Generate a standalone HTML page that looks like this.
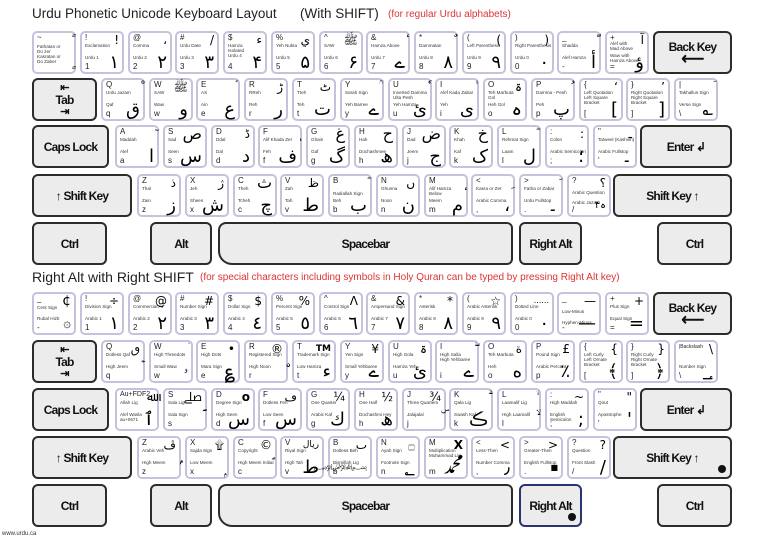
<!DOCTYPE html>
<html><head><meta charset="utf-8"><style>
*{box-sizing:border-box;margin:0;padding:0}
body{width:768px;height:544px;background:#fff;position:relative;overflow:hidden;font-family:"Liberation Sans",sans-serif;color:#222}
.k{position:absolute;width:44px;height:43px;border:2.5px solid #c6c2dc;border-radius:5px;background:#fff}
.k i{position:absolute;font-style:normal;white-space:nowrap}
.t{left:3px;top:1px;font-size:8px;line-height:8px}
.a{left:3px;top:10px;font-size:4.6px;line-height:5px;color:#333}
.b{left:3px;top:22px;font-size:4.6px;line-height:5px;color:#333}
.d{left:3px;bottom:1px;font-size:8px;line-height:8px}
.u{right:3px;top:0;font-size:12px;line-height:14px;font-family:"DejaVu Sans",sans-serif;color:#000}
.v{right:3px;bottom:0;font-size:18px;line-height:19px;font-family:"DejaVu Sans",sans-serif;color:#000}
.g{position:absolute;height:43px;border:2px solid #2c2c2c;border-radius:6px;background:#ececec;display:flex;align-items:center;justify-content:center;font-weight:bold;font-size:12px;letter-spacing:-0.8px;color:#111;flex-direction:column}
.h{position:absolute;font-size:13.5px;color:#222;white-space:nowrap}
.r{position:absolute;font-size:10px;color:#d33;white-space:nowrap}
.dot{position:absolute;right:4px;bottom:4px;width:8px;height:8px;border-radius:50%;background:#111}
</style></head><body>

<div class="h" style="left:32px;top:6px">Urdu Phonetic Unicode Keyboard Layout</div>
<div class="h" style="left:300px;top:6px">(With SHIFT)</div>
<div class="r" style="left:388px;top:9px">(for regular Urdu alphabets)</div>

<!-- TOP row1 -->
<div class="k" style="left:32px;top:31px"><i class="t">~</i><i class="a" style="top:11px">Fathatan or<br>Do zer<br>Kasratan or<br>Do Zaber</i><i class="u">ً</i><i class="v" style="font-size:12px">ٍ</i></div>
<div class="k" style="left:80px;top:31px"><i class="t">!</i><i class="a">Exclamation</i><i class="b">Urdu 1</i><i class="d">1</i><i class="u">!</i><i class="v">۱</i></div>
<div class="k" style="left:128px;top:31px"><i class="t">@</i><i class="a">Comma</i><i class="b">Urdu 2</i><i class="d">2</i><i class="u">،</i><i class="v">۲</i></div>
<div class="k" style="left:175px;top:31px"><i class="t">#</i><i class="a">Urdu Date</i><i class="b">Urdu 3</i><i class="d">3</i><i class="u">/</i><i class="v">۳</i></div>
<div class="k" style="left:223px;top:31px"><i class="t">$</i><i class="a">Hamza<br>Isolated<br>Urdu 4</i><i class="d">4</i><i class="u">ء</i><i class="v">۴</i></div>
<div class="k" style="left:271px;top:31px"><i class="t">%</i><i class="a">Yeh Nukta</i><i class="b">Urdu 5</i><i class="d">5</i><i class="u">ي</i><i class="v">۵</i></div>
<div class="k" style="left:319px;top:31px"><i class="t">^</i><i class="a">SAW</i><i class="b">Urdu 6</i><i class="d">6</i><i class="u">ﷺ</i><i class="v">۶</i></div>
<div class="k" style="left:366px;top:31px"><i class="t">&amp;</i><i class="a">Hamza Above</i><i class="b">Urdu 7</i><i class="d">7</i><i class="u">ٔ</i><i class="v">ے</i></div>
<div class="k" style="left:414px;top:31px"><i class="t">*</i><i class="a">Dammatan</i><i class="b">Urdu 8</i><i class="d">8</i><i class="u">ٌ</i><i class="v">۸</i></div>
<div class="k" style="left:462px;top:31px"><i class="t">(</i><i class="a">Left Parenthesis</i><i class="b">Urdu 9</i><i class="d">9</i><i class="u">(</i><i class="v">۹</i></div>
<div class="k" style="left:510px;top:31px"><i class="t">)</i><i class="a">Right Parenthesis</i><i class="b">Urdu 0</i><i class="d">0</i><i class="u">)</i><i class="v">۰</i></div>
<div class="k" style="left:557px;top:31px"><i class="t">_</i><i class="a">Shadda</i><i class="b">Alef Hamza</i><i class="d">-</i><i class="u">ّ</i><i class="v">أ</i></div>
<div class="k" style="left:605px;top:31px"><i class="t">+</i><i class="a" style="top:8px">Alef with<br>Mad Above</i><i class="b" style="top:20px">Waw with<br>Hamza Above</i><i class="d">=</i><i class="u">آ</i><i class="v">ؤ</i></div>
<div class="g" style="left:653px;top:31px;width:79px">Back Key<span style="font-size:16px;line-height:12px">⟵</span></div>

<!-- TOP row2 -->
<div class="g" style="left:32px;top:78px;width:65px"><span style="font-size:11px;line-height:10px">⇤</span>Tab<span style="font-size:11px;line-height:10px">⇥</span></div>
<div class="k" style="left:101px;top:78px"><i class="t">Q</i><i class="a">Urdu Jazam</i><i class="b">Qaf</i><i class="d">q</i><i class="u">ْ</i><i class="v">ق</i></div>
<div class="k" style="left:149px;top:78px"><i class="t">W</i><i class="a">SAW</i><i class="b">Waw</i><i class="d">w</i><i class="u">ﷺ</i><i class="v">و</i></div>
<div class="k" style="left:196px;top:78px"><i class="t">E</i><i class="a">AS</i><i class="b">Ain</i><i class="d">e</i><i class="u">ؑ</i><i class="v">ع</i></div>
<div class="k" style="left:244px;top:78px"><i class="t">R</i><i class="a">RReh</i><i class="b">Reh</i><i class="d">r</i><i class="u">ڑ</i><i class="v">ر</i></div>
<div class="k" style="left:292px;top:78px"><i class="t">T</i><i class="a">Tteh</i><i class="b">Teh</i><i class="d">t</i><i class="u">ٹ</i><i class="v">ت</i></div>
<div class="k" style="left:340px;top:78px"><i class="t">Y</i><i class="a">Sarah Sign</i><i class="b">Yeh Barree</i><i class="d">y</i><i class="u">ؒ</i><i class="v">ے</i></div>
<div class="k" style="left:388px;top:78px"><i class="t">U</i><i class="a">Inverted Damma<br>Ulta Pesh</i><i class="b">Yeh Hamza</i><i class="d">u</i><i class="u">ٗ</i><i class="v">ئ</i></div>
<div class="k" style="left:435px;top:78px"><i class="t">I</i><i class="a">Alef Kada Zabar</i><i class="b">Yeh</i><i class="d">i</i><i class="u">ٰ</i><i class="v">ی</i></div>
<div class="k" style="left:483px;top:78px"><i class="t">O</i><i class="a">Teh Marbuta<br>Gol</i><i class="b">Heh Gol</i><i class="d">o</i><i class="u">ۃ</i><i class="v">ہ</i></div>
<div class="k" style="left:531px;top:78px"><i class="t">P</i><i class="a">Damma - Pesh</i><i class="b">Peh</i><i class="d">p</i><i class="u">ُ</i><i class="v">پ</i></div>
<div class="k" style="left:579px;top:78px"><i class="t">{</i><i class="a">Left Quotation<br>Left Square<br>Bracket</i><i class="d">[</i><i class="u">‘</i><i class="v">[</i></div>
<div class="k" style="left:626px;top:78px"><i class="t">}</i><i class="a">Right Quotation<br>Right Square<br>Bracket</i><i class="d">]</i><i class="u">’</i><i class="v">]</i></div>
<div class="k" style="left:674px;top:78px"><i class="t">|</i><i class="a">Takhallus Sign</i><i class="b">Verse Sign</i><i class="d">\</i><i class="u">ؔ</i><i class="v">؎</i></div>

<!-- TOP row3 -->
<div class="g" style="left:32px;top:125px;width:77px">Caps Lock</div>
<div class="k" style="left:115px;top:125px"><i class="t">A</i><i class="a">Maddah</i><i class="b">Alef</i><i class="d">a</i><i class="u">ٓ</i><i class="v">ا</i></div>
<div class="k" style="left:163px;top:125px"><i class="t">S</i><i class="a">Sad</i><i class="b">Seen</i><i class="d">s</i><i class="u" style="font-size:16px">ص</i><i class="v">س</i></div>
<div class="k" style="left:211px;top:125px"><i class="t">D</i><i class="a">Ddal</i><i class="b">Dal</i><i class="d">d</i><i class="u">ڈ</i><i class="v">د</i></div>
<div class="k" style="left:258px;top:125px"><i class="t">F</i><i class="a">Alif Khada Zer</i><i class="b">Feh</i><i class="d">f</i><i class="u">ٖ</i><i class="v">ف</i></div>
<div class="k" style="left:306px;top:125px"><i class="t">G</i><i class="a">Ghain</i><i class="b">Gaf</i><i class="d">g</i><i class="u" style="font-size:16px">غ</i><i class="v">گ</i></div>
<div class="k" style="left:354px;top:125px"><i class="t">H</i><i class="a">Hah</i><i class="b">Dochashmee</i><i class="d">h</i><i class="u" style="font-size:16px">ح</i><i class="v">ھ</i></div>
<div class="k" style="left:402px;top:125px"><i class="t">J</i><i class="a">Dad</i><i class="b">Jeem</i><i class="d">j</i><i class="u" style="font-size:16px">ض</i><i class="v">ج</i></div>
<div class="k" style="left:449px;top:125px"><i class="t">K</i><i class="a">Khah</i><i class="b">Kaf</i><i class="d">k</i><i class="u" style="font-size:16px">خ</i><i class="v">ک</i></div>
<div class="k" style="left:497px;top:125px"><i class="t">L</i><i class="a">Rehmat Sign</i><i class="b">Laam</i><i class="d">l</i><i class="u">ؓ</i><i class="v">ل</i></div>
<div class="k" style="left:545px;top:125px"><i class="t">:</i><i class="a">Colon</i><i class="b">Arabic Semicolon</i><i class="d">;</i><i class="u">:</i><i class="v">؛</i></div>
<div class="k" style="left:593px;top:125px"><i class="t">"</i><i class="a">Tatweel (Kashish)</i><i class="b">Arabic Fullstop</i><i class="d">'</i><i class="u">ـ</i><i class="v">۔</i></div>
<div class="g" style="left:640px;top:125px;width:92px">Enter ↲</div>

<!-- TOP row4 -->
<div class="g" style="left:32px;top:174px;width:100px">↑ Shift Key</div>
<div class="k" style="left:137px;top:174px"><i class="t">Z</i><i class="a">Thal</i><i class="b">Zain</i><i class="d">z</i><i class="u">ذ</i><i class="v">ز</i></div>
<div class="k" style="left:185px;top:174px"><i class="t">X</i><i class="a">Jeh</i><i class="b">Sheen</i><i class="d">x</i><i class="u">ژ</i><i class="v">ش</i></div>
<div class="k" style="left:233px;top:174px"><i class="t">C</i><i class="a">Theh</i><i class="b">Tcheh</i><i class="d">c</i><i class="u" style="font-size:16px">ث</i><i class="v">چ</i></div>
<div class="k" style="left:280px;top:174px"><i class="t">V</i><i class="a">Zah</i><i class="b">Tah</i><i class="d">v</i><i class="u">ظ</i><i class="v">ط</i></div>
<div class="k" style="left:328px;top:174px"><i class="t">B</i><i class="a" style="top:15px">Radiallah Sign</i><i class="b">Beh</i><i class="d">b</i><i class="u">ؓ</i><i class="v">ب</i></div>
<div class="k" style="left:376px;top:174px"><i class="t">N</i><i class="a">Ghunna</i><i class="b">Noon</i><i class="d">n</i><i class="u">ں</i><i class="v">ن</i></div>
<div class="k" style="left:424px;top:174px"><i class="t">M</i><i class="a">Alif Hamza<br>Below</i><i class="b">Meem</i><i class="d">m</i><i class="u">ٕ</i><i class="v">م</i></div>
<div class="k" style="left:471px;top:174px"><i class="t">&lt;</i><i class="a">Kasra or Zer</i><i class="b">Arabic Comma</i><i class="d">,</i><i class="u">ِ</i><i class="v">،</i></div>
<div class="k" style="left:519px;top:174px"><i class="t">&gt;</i><i class="a">Fatha or Zabar</i><i class="b">Urdu Fullstop</i><i class="d">.</i><i class="u">َ</i><i class="v">۔</i></div>
<div class="k" style="left:567px;top:174px"><i class="t">?</i><i class="a" style="top:14px">Arabic Question<br><br>Arabic Jazam</i><i class="d">/</i><i class="u">؟</i><i class="v" style="font-size:10px">ہ۴</i></div>
<div class="g" style="left:613px;top:174px;width:119px">Shift Key ↑</div>

<!-- TOP row5 -->
<div class="g" style="left:32px;top:222px;width:75px">Ctrl</div>
<div class="g" style="left:150px;top:222px;width:62px">Alt</div>
<div class="g" style="left:218px;top:222px;width:295px;border-radius:8px 6px 6px 14px">Spacebar</div>
<div class="g" style="left:519px;top:222px;width:63px">Right Alt</div>
<div class="g" style="left:657px;top:222px;width:75px">Ctrl</div>

<div class="h" style="left:32px;top:269px;font-size:14px">Right Alt with Right SHIFT</div>
<div class="r" style="left:200px;top:272px">(for special characters including symbols in Holy Quran can be typed by pressing Right Alt key)</div>

<!-- BOTTOM row1 -->
<div class="k" style="left:32px;top:292px"><i class="t">_</i><i class="a" style="top:11px">Cent Sign</i><i class="b">Rubal Hizb</i><i class="d">-</i><i class="u" style="font-size:14px">¢</i><i class="v" style="font-size:13px">۞</i></div>
<div class="k" style="left:80px;top:292px"><i class="t">!</i><i class="a">Division Sign</i><i class="b">Arabic 1</i><i class="d">1</i><i class="u">÷</i><i class="v">١</i></div>
<div class="k" style="left:128px;top:292px"><i class="t">@</i><i class="a">Commercial At</i><i class="b">Arabic 2</i><i class="d">2</i><i class="u">@</i><i class="v">٢</i></div>
<div class="k" style="left:175px;top:292px"><i class="t">#</i><i class="a">Number Sign</i><i class="b">Arabic 3</i><i class="d">3</i><i class="u">#</i><i class="v">٣</i></div>
<div class="k" style="left:223px;top:292px"><i class="t">$</i><i class="a">Dollar Sign</i><i class="b">Arabic 4</i><i class="d">4</i><i class="u">$</i><i class="v">٤</i></div>
<div class="k" style="left:271px;top:292px"><i class="t">%</i><i class="a">Percent Sign</i><i class="b">Arabic 5</i><i class="d">5</i><i class="u">%</i><i class="v">٥</i></div>
<div class="k" style="left:319px;top:292px"><i class="t">^</i><i class="a">Control Sign</i><i class="b">Arabic 6</i><i class="d">6</i><i class="u">Λ</i><i class="v">٦</i></div>
<div class="k" style="left:366px;top:292px"><i class="t">&amp;</i><i class="a">Ampersand Sign</i><i class="b">Arabic 7</i><i class="d">7</i><i class="u">&amp;</i><i class="v">٧</i></div>
<div class="k" style="left:414px;top:292px"><i class="t">*</i><i class="a">Asterisk</i><i class="b">Arabic 8</i><i class="d">8</i><i class="u">*</i><i class="v">٨</i></div>
<div class="k" style="left:462px;top:292px"><i class="t">(</i><i class="a">Arabic Asterisk</i><i class="b">Arabic 9</i><i class="d">9</i><i class="u">☆</i><i class="v">٩</i></div>
<div class="k" style="left:510px;top:292px"><i class="t">)</i><i class="a">Dotted Line</i><i class="b">Arabic 0</i><i class="d">0</i><i class="u" style="font-size:8px">......</i><i class="v">٠</i></div>
<div class="k" style="left:557px;top:292px"><i class="t">_</i><i class="a" style="top:15px">Low-Minus</i><i class="b" style="top:26px">Hyphen-Minus</i><i class="d">-</i><i class="u">—</i><i class="v">—</i></div>
<div class="k" style="left:605px;top:292px"><i class="t">+</i><i class="a">Plus Sign</i><i class="b">Equal Sign</i><i class="d">=</i><i class="u">+</i><i class="v">=</i></div>
<div class="g" style="left:653px;top:292px;width:79px">Back Key<span style="font-size:16px;line-height:12px">⟵</span></div>

<!-- BOTTOM row2 -->
<div class="g" style="left:32px;top:340px;width:65px"><span style="font-size:11px;line-height:10px">⇤</span>Tab<span style="font-size:11px;line-height:10px">⇥</span></div>
<div class="k" style="left:101px;top:340px"><i class="t">Q</i><i class="a">Dotless Qaf</i><i class="b">High Jeem</i><i class="d">q</i><i class="u">ٯ</i><i class="v">ۡ</i></div>
<div class="k" style="left:149px;top:340px"><i class="t">W</i><i class="a">High Threedots</i><i class="b">Small Waw</i><i class="d">w</i><i class="u">ۛ</i><i class="v">ۥ</i></div>
<div class="k" style="left:196px;top:340px"><i class="t">E</i><i class="a">High Dots</i><i class="b">Mara Sign</i><i class="d">e</i><i class="u">•</i><i class="v">؏</i></div>
<div class="k" style="left:244px;top:340px"><i class="t">R</i><i class="a">Registered Sign</i><i class="b">High Noon</i><i class="d">r</i><i class="u">®</i><i class="v">ۨ</i></div>
<div class="k" style="left:292px;top:340px"><i class="t">T</i><i class="a">Trademark Sign</i><i class="b">Low Hamza</i><i class="d">t</i><i class="u" style="font-size:9px;font-weight:bold">TM</i><i class="v">ء</i></div>
<div class="k" style="left:340px;top:340px"><i class="t">Y</i><i class="a">Yen Sign</i><i class="b">Small Yehbaree</i><i class="d">y</i><i class="u">¥</i><i class="v">ے</i></div>
<div class="k" style="left:388px;top:340px"><i class="t">U</i><i class="a">High Gola</i><i class="b">Hamza Yeh</i><i class="d">u</i><i class="u">ۃ</i><i class="v">ئ</i></div>
<div class="k" style="left:435px;top:340px"><i class="t">I</i><i class="a">High Salla<br>High Yehbaree</i><i class="d">i</i><i class="u">ۖ</i><i class="v">ے</i></div>
<div class="k" style="left:483px;top:340px"><i class="t">O</i><i class="a">Teh Marbuta</i><i class="b">Heh</i><i class="d">o</i><i class="u">ة</i><i class="v">ه</i></div>
<div class="k" style="left:531px;top:340px"><i class="t">P</i><i class="a">Pound Sign</i><i class="b">Arabic Percent</i><i class="d">p</i><i class="u">£</i><i class="v">٪</i></div>
<div class="k" style="left:579px;top:340px"><i class="t">{</i><i class="a">Left Curly<br>Left Ornate<br>Bracket</i><i class="d">[</i><i class="u">{</i><i class="v">﴾</i></div>
<div class="k" style="left:626px;top:340px"><i class="t">}</i><i class="a">Right Curly<br>Right Ornate<br>Bracket</i><i class="d">]</i><i class="u">}</i><i class="v">﴿</i></div>
<div class="k" style="left:674px;top:340px"><i class="t" style="font-size:5px">|Backslash</i><i class="b">Number Sign</i><i class="d">\</i><i class="u">\</i><i class="v">؀</i></div>

<!-- BOTTOM row3 -->
<div class="g" style="left:32px;top:388px;width:77px">Caps Lock</div>
<div class="k" style="left:115px;top:388px"><i class="t" style="font-size:7px">Au+FDF2</i><i class="a">Allah Lig</i><i class="b">Alef Wasla<br>au+0671</i><i class="u">ﷲ</i><i class="v">ٱ</i></div>
<div class="k" style="left:163px;top:388px"><i class="t">S</i><i class="a">Sala Lig</i><i class="b">Sala Sign</i><i class="d">s</i><i class="u">ﷰ</i><i class="v">ؐ</i></div>
<div class="k" style="left:211px;top:388px"><i class="t">D</i><i class="a">Degree Sign</i><i class="b">High Seen</i><i class="d">d</i><i class="u" style="font-weight:bold">o</i><i class="v">س</i></div>
<div class="k" style="left:258px;top:388px"><i class="t">F</i><i class="a">Dotless Feh</i><i class="b">Low Seen</i><i class="d">f</i><i class="u">ڡ</i><i class="v">س</i></div>
<div class="k" style="left:306px;top:388px"><i class="t">G</i><i class="a">One Quarter</i><i class="b">Arabic Kaf</i><i class="d">g</i><i class="u">¼</i><i class="v">ك</i></div>
<div class="k" style="left:354px;top:388px"><i class="t">H</i><i class="a">One Half</i><i class="b">Dochashmi Hey</i><i class="d">h</i><i class="u">½</i><i class="v">ھ</i></div>
<div class="k" style="left:402px;top:388px"><i class="t">J</i><i class="a">Three Quarters</i><i class="b">Jalajalal</i><i class="d">j</i><i class="u">¾</i><i class="v">ۜ</i></div>
<div class="k" style="left:449px;top:388px"><i class="t">K</i><i class="a">Qala Lig</i><i class="b">Swash Kaf</i><i class="d">k</i><i class="u">ۗ</i><i class="v">ڪ</i></div>
<div class="k" style="left:497px;top:388px"><i class="t">L</i><i class="a">Laamalif Lig</i><i class="b">High Laamalif</i><i class="d">l</i><i class="u">ۙ</i><i class="v">ۙ</i></div>
<div class="k" style="left:545px;top:388px"><i class="t">:</i><i class="a">High Maddah</i><i class="b">English<br>Semicolon</i><i class="d">;</i><i class="u">~</i><i class="v">;</i></div>
<div class="k" style="left:593px;top:388px"><i class="t">"</i><i class="a">Qout</i><i class="b">Apostrophe</i><i class="d">'</i><i class="u">"</i><i class="v">'</i></div>
<div class="g" style="left:640px;top:388px;width:92px">Enter ↲</div>

<!-- BOTTOM row4 -->
<div class="g" style="left:32px;top:436px;width:100px">↑ Shift Key</div>
<div class="k" style="left:137px;top:436px"><i class="t">Z</i><i class="a">Arabic Veh</i><i class="b">High Meem</i><i class="d">z</i><i class="u">ڤ</i><i class="v">ۢ</i></div>
<div class="k" style="left:185px;top:436px"><i class="t">X</i><i class="a">Sajda Sign</i><i class="b">Low Meem</i><i class="d">x</i><i class="u">۩</i><i class="v">ۭ</i></div>
<div class="k" style="left:233px;top:436px"><i class="t">C</i><i class="a">Copyright</i><i class="b">High Meem Initial</i><i class="d">c</i><i class="u">©</i><i class="v">ۘ</i></div>
<div class="k" style="left:280px;top:436px"><i class="t">V</i><i class="a">Riyal Sign</i><i class="b">High Tah</i><i class="d">v</i><i class="u" style="font-size:9px">ریال</i><i class="v">ط</i></div>
<div class="k" style="left:328px;top:436px"><i class="t">B</i><i class="a">Dotless Beh</i><i class="b">Bismillah Lig</i><i class="d">b</i><i class="u">ٮ</i><i class="v" style="font-size:7px">﷽</i></div>
<div class="k" style="left:376px;top:436px"><i class="t">N</i><i class="a">Ayah Sign</i><i class="b">Footnote Sign</i><i class="d">n</i><i class="u">۝</i><i class="v">؂</i></div>
<div class="k" style="left:424px;top:436px"><i class="t">M</i><i class="a">Multiplication<br>Muhammad Lig</i><i class="d">m</i><i class="u" style="font-weight:bold">X</i><i class="v">ﷴ</i></div>
<div class="k" style="left:471px;top:436px"><i class="t">&lt;</i><i class="a">Less-Then</i><i class="b">Number Comma</i><i class="d">,</i><i class="u">&lt;</i><i class="v">٫</i></div>
<div class="k" style="left:519px;top:436px"><i class="t">&gt;</i><i class="a">Greater-Then</i><i class="b">English Fullstop</i><i class="d">.</i><i class="u">&gt;</i><i class="v" style="font-size:8px">■</i></div>
<div class="k" style="left:567px;top:436px"><i class="t">?</i><i class="a">Question</i><i class="b">Front Slash</i><i class="d">/</i><i class="u">?</i><i class="v">/</i></div>
<div class="g" style="left:613px;top:436px;width:119px">Shift Key ↑<span class="dot"></span></div>

<!-- BOTTOM row5 -->
<div class="g" style="left:32px;top:484px;width:75px">Ctrl</div>
<div class="g" style="left:150px;top:484px;width:62px">Alt</div>
<div class="g" style="left:218px;top:484px;width:295px;border-radius:8px 6px 6px 14px">Spacebar</div>
<div class="g" style="left:519px;top:484px;width:63px;border-color:#2a3470">Right Alt<span class="dot"></span></div>
<div class="g" style="left:657px;top:484px;width:75px">Ctrl</div>

<div style="position:absolute;left:2px;top:531px;font-size:6px;color:#333">www.urdu.ca</div>
</body></html>
